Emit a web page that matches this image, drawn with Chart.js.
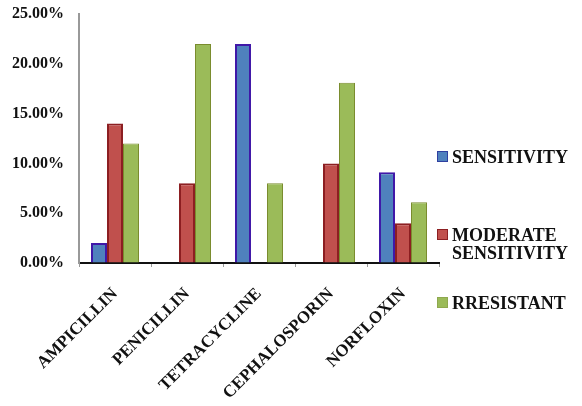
<!DOCTYPE html>
<html>
<head>
<meta charset="utf-8">
<script src="https://cdn.jsdelivr.net/npm/chart.js@4"></script>
<style>
    body { margin: 0; background: #fff; }
    #caixa { position: relative; width: 582px; height: 406px; }
    #legenda { position: absolute; left: 0; top: 0; font-family: "Liberation Serif", "Times New Roman", serif; font-weight: bold; font-size: 18px; color: #111; }
    .item { position: absolute; left: 437px; white-space: nowrap; line-height: 18px; }
    .quadrado { position: absolute; left: 0; top: 3px; width: 11px; height: 11px; }
    .texto { position: absolute; left: 15px; top: 0; }
</style>
</head>
<body>
<div id="caixa">
    <canvas id="grafico"></canvas>
    <div id="legenda"></div>
</div>
<script>
const antibioticos = ["AMPICILLIN", "PENICILLIN", "TETRACYCLINE", "CEPHALOSPORIN", "NORFLOXIN"];
const sensibilidade = [2, 0, 22, 0, 9.1];
const sensibilidadeModerada = [14, 8, 0, 10, 4];
const resistente = [12, 22, 8, 18.1, 6.1];
const nomesSeries = ["SENSITIVITY", "MODERATE SENSITIVITY", "RRESISTANT"];
const marcasEixoY = [0, 5, 10, 15, 20, 25];

const fonteSerif = "'Liberation Serif', 'Times New Roman', serif";

window.onload = aoCarregarPagina;

function aoCarregarPagina() {
    const ctx = document.querySelector("#grafico");
    criarGrafico(ctx);
    criarLegenda();
}

function criarGrafico(ctx) {
    const datasets = [
        {
            label: nomesSeries[0],
            data: sensibilidade,
            backgroundColor: '#4F81BD',
            borderColor: '#4018A8',
            borderWidth: 2,
        },
        {
            label: nomesSeries[1],
            data: sensibilidadeModerada,
            backgroundColor: '#C0504D',
            borderColor: '#8C1F22',
            borderWidth: 2,
        },
        {
            label: nomesSeries[2],
            data: resistente,
            backgroundColor: '#9BBB59',
            borderColor: '#7A8C2E',
            borderWidth: 1,
        }
    ];

    return new Chart(ctx, {
        type: 'bar',
        data: {
            labels: antibioticos,
            datasets: datasets
        },
        options: {
            responsive: true,
            maintainAspectRatio: false,
            animation: false,
            layout: { padding: { top: 0, right: 143, left: 0, bottom: 0 } },
            plugins: {
                legend: { display: false },
                tooltip: { enabled: false }
            },
            datasets: {
                bar: { categoryPercentage: 0.667, barPercentage: 1 }
            },
            scales: {
                x: {
                    afterFit: (escala) => { escala.height = 143; escala.paddingTop = 0; },
                    grid: { drawOnChartArea: false, offset: true, tickLength: 4, color: '#999', lineWidth: 1 },
                    border: { color: '#111', width: 2 },
                    ticks: {
                        autoSkip: false,
                        minRotation: 45,
                        maxRotation: 45,
                        padding: 17,
                        color: '#111',
                        font: { family: fonteSerif, weight: 'bold', size: 17 }
                    }
                },
                y: {
                    min: 0,
                    max: 25,
                    afterFit: (escala) => { escala.width = 79; escala.paddingTop = 14; },
                    afterBuildTicks: (escala) => { escala.ticks = marcasEixoY.map(v => ({ value: v })); },
                    grid: { display: true, drawOnChartArea: false, drawTicks: false },
                    border: { color: '#999', width: 2 },
                    ticks: {
                        padding: 15,
                        color: '#111',
                        font: { family: fonteSerif, weight: 'bold', size: 16 },
                        callback: (valor) => valor.toFixed(2) + '%'
                    }
                }
            }
        }
    });
}

function criarLegenda() {
    const cores = ['#4F81BD', '#C0504D', '#9BBB59'];
    const bordas = ['#2F3FA0', '#8C1F22', '#8FA84E'];
    const linhasTexto = [["SENSITIVITY"], ["MODERATE", "SENSITIVITY"], ["RRESISTANT"]];
    const topos = [148, 226, 294];
    const legenda = document.querySelector("#legenda");

    nomesSeries.forEach((nome, i) => {
        const item = document.createElement("div");
        item.className = "item";
        item.style.top = topos[i] + "px";
        item.title = nome;
        item.innerHTML = '<span class="quadrado" style="background:' + cores[i] + ';border:1px solid ' + bordas[i] + ';box-sizing:border-box"></span>'
            + '<span class="texto">' + linhasTexto[i].join('<br>') + '</span>';
        legenda.appendChild(item);
    });
}
</script>
</body>
</html>
